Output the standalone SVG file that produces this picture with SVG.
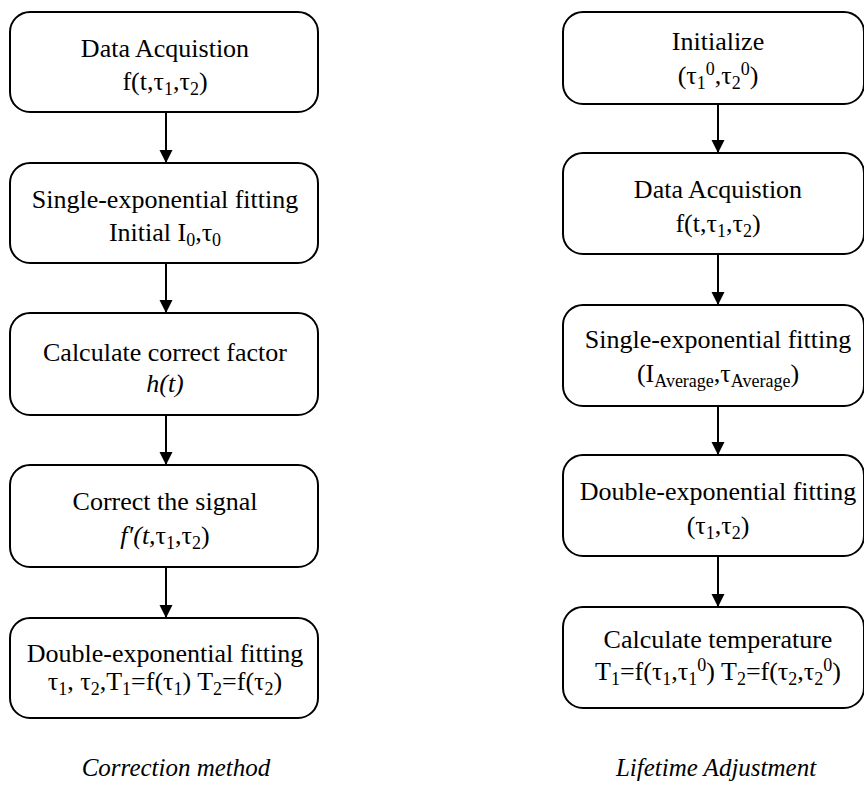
<svg xmlns="http://www.w3.org/2000/svg" width="864" height="794" viewBox="0 0 864 794">
<defs>
<style>
.box{fill:#fff;stroke:#000;stroke-width:2}
.t{font-family:"Liberation Serif","Times New Roman",serif;font-size:26px;fill:#000;text-anchor:middle}
.s{font-size:18px}
.i{font-style:italic}
.cap{font-family:"Liberation Serif","Times New Roman",serif;font-size:25px;font-style:italic;fill:#000;text-anchor:middle}
.c{stroke:#000;stroke-width:2;fill:none;marker-end:url(#ah)}
</style>
<marker id="ah" markerUnits="userSpaceOnUse" markerWidth="13" markerHeight="14" refX="13" refY="6.5" orient="auto">
<path d="M0,0 L13,6.5 L0,13 z" fill="#000"/>
</marker>
</defs>
<g id="connectors">
<line class="c" x1="166" y1="112" x2="166" y2="163"/>
<line class="c" x1="166" y1="263" x2="166" y2="313"/>
<line class="c" x1="166" y1="415" x2="166" y2="465"/>
<line class="c" x1="166" y1="567" x2="166" y2="618"/>
<line class="c" x1="718" y1="104" x2="718" y2="153"/>
<line class="c" x1="718" y1="254" x2="718" y2="305"/>
<line class="c" x1="718" y1="406" x2="718" y2="455"/>
<line class="c" x1="718" y1="556" x2="718" y2="607"/>
</g>
<g id="L1">
<rect class="box" x="10" y="12" width="308" height="100" rx="20"/>
<text class="t" x="165" y="57">Data Acquistion</text>
<text class="t" x="165" y="90">f(t,τ<tspan class="s" dy="5">1</tspan><tspan dy="-5">,τ</tspan><tspan class="s" dy="5">2</tspan><tspan dy="-5">)</tspan></text>
</g>
<g id="L2">
<rect class="box" x="10" y="163" width="308" height="100" rx="20"/>
<text class="t" x="165" y="208">Single-exponential fitting</text>
<text class="t" x="165" y="241">Initial I<tspan class="s" dy="5">0</tspan><tspan dy="-5">,τ</tspan><tspan class="s" dy="5">0</tspan></text>
</g>
<g id="L3">
<rect class="box" x="10" y="313" width="308" height="102" rx="20"/>
<text class="t" x="165" y="361">Calculate correct factor</text>
<text class="t i" x="165" y="392">h(t)</text>
</g>
<g id="L4">
<rect class="box" x="10" y="465" width="308" height="102" rx="20"/>
<text class="t" x="165" y="510">Correct the signal</text>
<text class="t" x="165" y="544"><tspan class="i">f′(t,</tspan>τ<tspan class="s" dy="5">1</tspan><tspan dy="-5">,τ</tspan><tspan class="s" dy="5">2</tspan><tspan dy="-5">)</tspan></text>
</g>
<g id="L5">
<rect class="box" x="10" y="618" width="308" height="100" rx="20"/>
<text class="t" x="165" y="662">Double-exponential fitting</text>
<text class="t" x="165" y="690">τ<tspan class="s" dy="5">1</tspan><tspan dy="-5">, τ</tspan><tspan class="s" dy="5">2</tspan><tspan dy="-5">,T</tspan><tspan class="s" dy="5">1</tspan><tspan dy="-5">=f(τ</tspan><tspan class="s" dy="5">1</tspan><tspan dy="-5">) T</tspan><tspan class="s" dy="5">2</tspan><tspan dy="-5">=f(τ</tspan><tspan class="s" dy="5">2</tspan><tspan dy="-5">)</tspan></text>
</g>
<g id="R1">
<rect class="box" x="563" y="12" width="301" height="92" rx="20"/>
<text class="t" x="718" y="50">Initialize</text>
<text class="t" x="718" y="84">(τ<tspan class="s" dy="5">1</tspan><tspan class="s" dy="-14">0</tspan><tspan dy="9">,τ</tspan><tspan class="s" dy="5">2</tspan><tspan class="s" dy="-14">0</tspan><tspan dy="9">)</tspan></text>
</g>
<g id="R2">
<rect class="box" x="563" y="153" width="301" height="101" rx="20"/>
<text class="t" x="718" y="198">Data Acquistion</text>
<text class="t" x="718" y="232">f(t,τ<tspan class="s" dy="5">1</tspan><tspan dy="-5">,τ</tspan><tspan class="s" dy="5">2</tspan><tspan dy="-5">)</tspan></text>
</g>
<g id="R3">
<rect class="box" x="563" y="305" width="301" height="101" rx="20"/>
<text class="t" x="718" y="348">Single-exponential fitting</text>
<text class="t" x="718" y="382">(I<tspan class="s" dy="5">Average</tspan><tspan dy="-5">,τ</tspan><tspan class="s" dy="5">Average</tspan><tspan dy="-5">)</tspan></text>
</g>
<g id="R4">
<rect class="box" x="563" y="455" width="301" height="101" rx="20"/>
<text class="t" x="718" y="500">Double-exponential fitting</text>
<text class="t" x="718" y="534">(τ<tspan class="s" dy="5">1</tspan><tspan dy="-5">,τ</tspan><tspan class="s" dy="5">2</tspan><tspan dy="-5">)</tspan></text>
</g>
<g id="R5">
<rect class="box" x="563" y="607" width="301" height="101" rx="20"/>
<text class="t" x="718" y="648">Calculate temperature</text>
<text class="t" x="718" y="680">T<tspan class="s" dy="5">1</tspan><tspan dy="-5">=f(τ</tspan><tspan class="s" dy="5">1</tspan><tspan dy="-5">,τ</tspan><tspan class="s" dy="5">1</tspan><tspan class="s" dy="-14">0</tspan><tspan dy="9">) T</tspan><tspan class="s" dy="5">2</tspan><tspan dy="-5">=f(τ</tspan><tspan class="s" dy="5">2</tspan><tspan dy="-5">,τ</tspan><tspan class="s" dy="5">2</tspan><tspan class="s" dy="-14">0</tspan><tspan dy="9">)</tspan></text>
</g>
<g id="captions">
<text class="cap" x="176" y="776">Correction method</text>
<text class="cap" x="716" y="776">Lifetime Adjustment</text>
</g>
</svg>
